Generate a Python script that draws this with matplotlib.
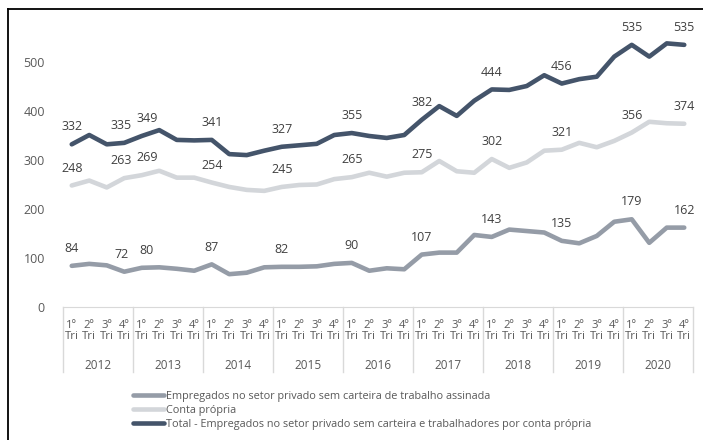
import matplotlib
matplotlib.use("Agg")
import matplotlib.pyplot as plt
from matplotlib.lines import Line2D

plt.rcParams['font.family'] = ['Open Sans', 'DejaVu Sans']

anos = ['2012', '2013', '2014', '2015', '2016', '2017', '2018', '2019', '2020']
trimestres = ['1º\nTri', '2º\nTri', '3º\nTri', '4º\nTri']

sem_carteira = [84, 88, 85, 72, 80, 81, 78, 74, 87, 67, 70, 81,
                82, 82, 83, 88, 90, 74, 79, 77, 107, 111, 111, 147,
                143, 158, 155, 152, 135, 130, 145, 174, 179, 131, 162, 162]
conta_propria = [248, 258, 244, 263, 269, 278, 264, 264, 254, 245, 239, 237,
                 245, 249, 250, 261, 265, 274, 266, 274, 275, 298, 277, 274,
                 302, 284, 295, 319, 321, 335, 326, 339, 356, 378, 375, 374]
total = [332, 351, 332, 335, 349, 361, 341, 340, 341, 312, 310, 319,
         327, 330, 333, 351, 355, 349, 345, 351, 382, 410, 390, 421,
         444, 443, 451, 473, 456, 465, 470, 511, 535, 511, 538, 535]

# pontos com rótulo de valor
rotulos = [0, 3, 4, 8, 12, 16, 20, 24, 28, 32, 35]
# pequeno deslocamento horizontal (px) para rótulos vizinhos não se tocarem
desloc = {3: -3, 4: 5}

nomes = ['Empregados no setor privado sem carteira de trabalho assinada',
         'Conta própria',
         'Total - Empregados no setor privado sem carteira e trabalhadores por conta própria']
cores = ['#959ca7', '#d3d6da', '#44546a']
texto = '#595959'

W, H = 703, 440
fig = plt.figure(figsize=(W / 100, H / 100), dpi=100)
y0_px, ytop = 307, 580
top_px = y0_px - 0.49 * ytop
ax = fig.add_axes([63 / W, 1 - y0_px / H, 630 / W, (y0_px - top_px) / H])
ax_h = y0_px - top_px

x = list(range(len(total)))
for serie, cor, nome in zip([sem_carteira, conta_propria, total], cores, nomes):
    ax.plot(x, serie, color=cor, lw=3.3, solid_capstyle='round',
            solid_joinstyle='round', label=nome)
    for i in rotulos:
        ax.annotate(str(serie[i]), (i, serie[i]),
                    xytext=(desloc.get(i, 0) * 0.72, 12.5),
                    textcoords='offset points', ha='center', va='center',
                    fontsize=9, color='#404040')

ax.set_xlim(-0.5, len(total) - 0.5)
ax.set_ylim(0, ytop)
ax.set_yticks([0, 100, 200, 300, 400, 500])
ax.tick_params(axis='y', length=0, pad=13, labelsize=9, labelcolor=texto)
ax.set_xticks([])
for s in ['top', 'right', 'left']:
    ax.spines[s].set_visible(False)
ax.spines['bottom'].set_color('#d9d9d9')

# eixo de categorias em dois níveis
px = lambda p: -p / ax_h
trans = ax.get_xaxis_transform()
for i in x:
    q = trimestres[i % 4].split('\n')
    ax.text(i, px(18), q[0], transform=trans, ha='center', va='center',
            fontsize=8.2, color=texto)
    ax.text(i, px(29), q[1], transform=trans, ha='center', va='center',
            fontsize=8.2, color=texto)
for k, ano in enumerate(anos):
    ax.text(4 * k + 1.5, px(58), ano, transform=trans, ha='center',
            va='center', fontsize=8.5, color=texto)
for k in range(len(anos) + 1):
    ax.plot([4 * k - 0.5] * 2, [0, px(65)], transform=trans, color='#d9d9d9',
            lw=1, clip_on=False)

fig.legend(loc='upper left', bbox_to_anchor=(133 / W, 1 - 391 / H),
           frameon=False, fontsize=7.8, handlelength=2.9, handletextpad=0.1,
           labelspacing=0.28, borderpad=0, borderaxespad=0,
           labelcolor=texto)

# moldura
fig.add_artist(Line2D([8 / W, 8 / W], [0, 1 - 9 / H], color='black', lw=1.3))
fig.add_artist(Line2D([8 / W, 1], [1 - 9 / H, 1 - 9 / H], color='black', lw=1.3))

fig.savefig('out.png', dpi=100)
